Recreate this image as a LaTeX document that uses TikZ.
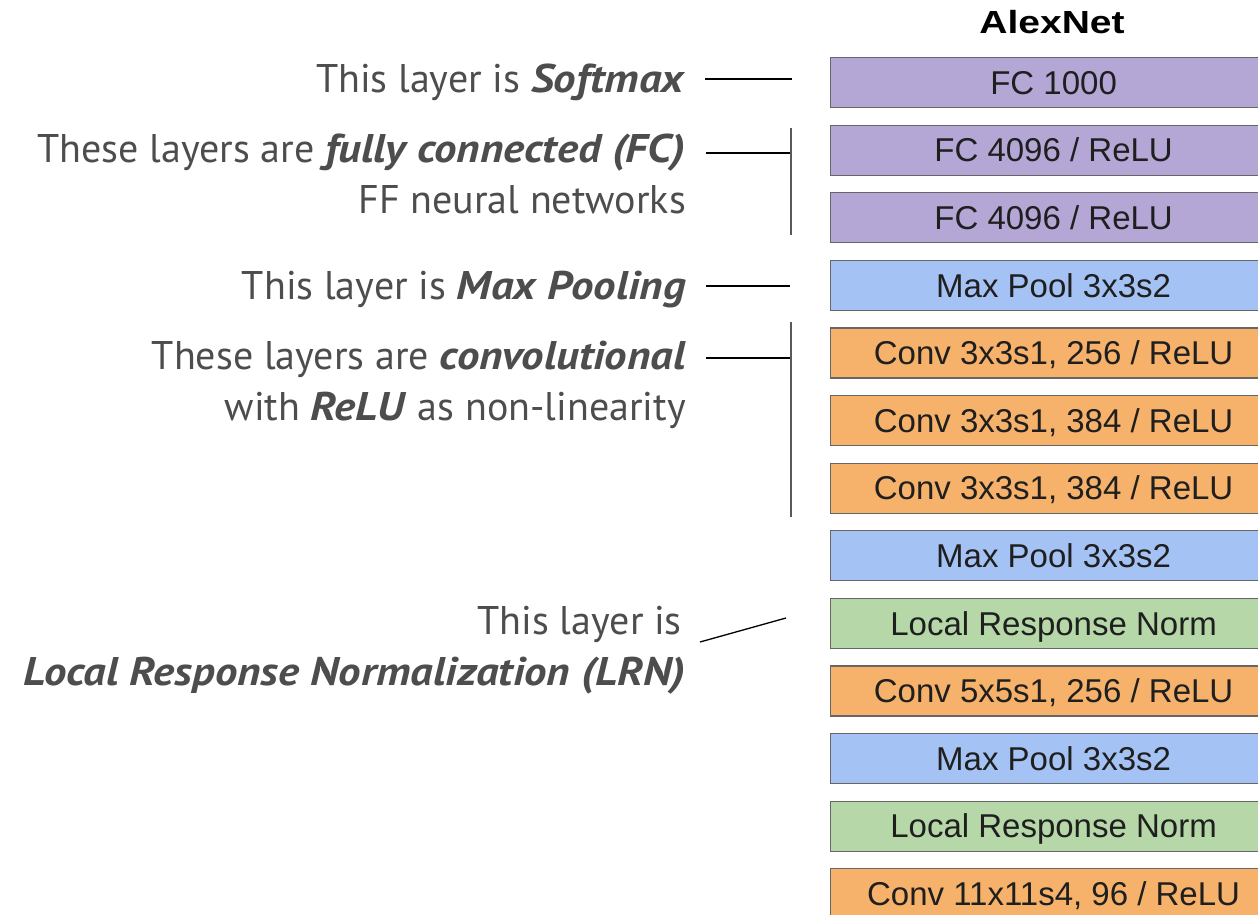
\documentclass[tikz,border=0pt]{standalone}
\usepackage{fontspec}
\setmainfont{PT Sans}[BoldItalicFeatures={FakeStretch=1.12}]
\newfontfamily\boxfont{Liberation Sans}
\usetikzlibrary{calc}
\definecolor{fcfill}{HTML}{B4A7D6}
\definecolor{poolfill}{HTML}{A4C2F4}
\definecolor{convfill}{HTML}{F6B26B}
\definecolor{lrnfill}{HTML}{B6D7A8}
\definecolor{edgegray}{HTML}{666666}
\definecolor{notegray}{HTML}{4D4D4D}
\tikzset{
  layer/.style={draw=edgegray, line width=1.2pt, minimum width=446pt,
    minimum height=50pt, anchor=north west, inner sep=0pt,
    text height=23.5pt, text depth=0pt, text=black!88,
    font=\boxfont\fontsize{33}{36}\selectfont},
  fc/.style={layer, fill=fcfill},
  pool/.style={layer, fill=poolfill},
  conv/.style={layer, fill=convfill},
  lrn/.style={layer, fill=lrnfill},
  note/.style={anchor=base east, inner sep=0pt, text=notegray,
    font=\fontsize{40}{48}\selectfont},
  lead/.style={line width=1.3pt, black},
  bracket/.style={line width=1.3pt, black!65},
}
\newcommand{\keyterm}[1]{\textbf{\textit{#1}}}
\begin{document}
\begin{tikzpicture}[x=1pt, y=-1pt]
  \useasboundingbox (0,0) rectangle (1258,915);
  \fill[white] (0,0) rectangle (1258,915);

  % network column
  \begin{scope}
    \clip (0,0) rectangle (1258,915);
    \node[font=\boxfont\bfseries\fontsize{32}{36}\selectfont, anchor=base, inner sep=0pt]
      (title) at (1052,34) {\scalebox{1.22}[1]{AlexNet}};
    \node[fc]   (fc8)   at (830,57.0)  {FC 1000};
    \node[fc]   (fc7)   at (830,124.6) {FC 4096 / ReLU};
    \node[fc]   (fc6)   at (830,192.2) {FC 4096 / ReLU};
    \node[pool] (pool5) at (830,259.8) {Max Pool 3x3s2};
    \node[conv] (conv5) at (830,327.4) {Conv 3x3s1, 256 / ReLU};
    \node[conv] (conv4) at (830,395.0) {Conv 3x3s1, 384 / ReLU};
    \node[conv] (conv3) at (830,462.6) {Conv 3x3s1, 384 / ReLU};
    \node[pool] (pool2) at (830,530.2) {Max Pool 3x3s2};
    \node[lrn]  (norm2) at (830,597.8) {Local Response Norm};
    \node[conv] (conv2) at (830,665.4) {Conv 5x5s1, 256 / ReLU};
    \node[pool] (pool1) at (830,733.0) {Max Pool 3x3s2};
    \node[lrn]  (norm1) at (830,800.6) {Local Response Norm};
    \node[conv] (conv1) at (830,868.2) {Conv 11x11s4, 96 / ReLU};
  \end{scope}

  % annotations
  \node[note] (nsoft)  at (686,93)  {This layer is \keyterm{Softmax}};
  \node[note] (nfcA)   at (686,163) {These layers are \keyterm{fully connected (FC)}};
  \node[note] (nfcB)   at (686,213) {FF neural networks};
  \node[note] (npool)  at (686,299) {This layer is \keyterm{Max Pooling}};
  \node[note] (nconvA) at (686,369) {These layers are \keyterm{convolutional}};
  \node[note] (nconvB) at (686,420) {with \keyterm{ReLU} as non-linearity};
  \node[note] (nlrnA)  at (682,634) {This layer is};
  \node[note] (nlrnB)  at (686,685) {\keyterm{Local Response Normalization (LRN)}};

  % leader lines and brackets
  \coordinate (softL) at (705,79);   \coordinate (softR) at (792,79);
  \coordinate (fcL)   at (706,153);  \coordinate (fcR)   at (791,153);
  \coordinate (fcTop) at (791,128);  \coordinate (fcBot) at (791,235);
  \coordinate (poolL) at (706,286);  \coordinate (poolR) at (790,286);
  \coordinate (cvL)   at (706,358);  \coordinate (cvR)   at (790,358);
  \coordinate (cvTop) at (791,322);  \coordinate (cvBot) at (791,517);
  \coordinate (lrnL)  at (700,642);  \coordinate (lrnR)  at (786,618);

  \draw[lead] (softL) -- (softR);
  \draw[lead] (fcL) -- (fcR);
  \draw[bracket] (fcTop) -- (fcBot);
  \draw[lead] (poolL) -- (poolR);
  \draw[lead] (cvL) -- (cvR);
  \draw[bracket] (cvTop) -- (cvBot);
  \draw[lead] (lrnL) -- (lrnR);
\end{tikzpicture}
\end{document}
